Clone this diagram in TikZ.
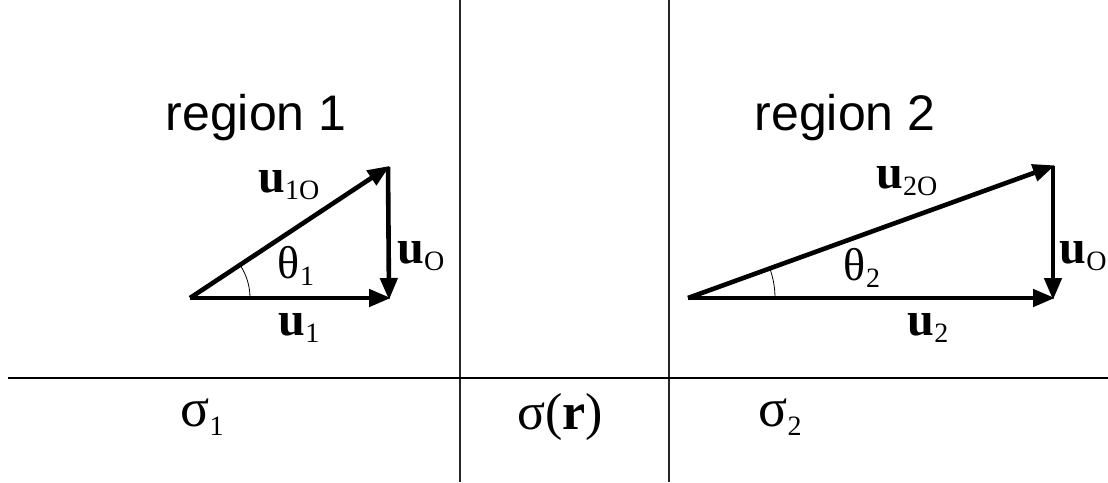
\documentclass[tikz,border=0pt]{standalone}
\usepackage{fontspec}
\setmainfont{Liberation Serif}
\newfontfamily\regfont{Liberation Sans}
\usetikzlibrary{arrows.meta}
\newcommand{\vlab}[2]{\fontsize{48}{52}\selectfont\textbf{u}\raisebox{-0.35ex}{\fontsize{28}{30}\selectfont #2}}
\newcommand{\glab}[2]{\fontsize{#2}{#2}\selectfont #1}
\begin{document}
\begin{tikzpicture}[x=1pt,y=-1pt,
  vec/.style={line width=4.6pt,-{Triangle[length=22pt,width=17pt]},shorten >=-2pt},
  divider/.style={line width=1.2pt,black!85},
  regtxt/.style={font=\regfont\fontsize{50}{54}\selectfont,inner sep=0},
  lab/.style={inner sep=0}]
\fill[white] (0,0) rectangle (1108,482);
\useasboundingbox (0,0) rectangle (1108,482);
% dividers
\coordinate (L1t) at (460,0); \coordinate (L1b) at (460,482);
\coordinate (L2t) at (669,0); \coordinate (L2b) at (669,482);
\coordinate (Hl) at (8,378); \coordinate (Hr) at (1108,378);
\draw[divider] (L1t) -- (L1b);
\draw[divider] (L2t) -- (L2b);
\draw[line width=1.8pt] (Hl) -- (Hr);
% region labels
\node[regtxt] (r1) at (256,118) {region 1};
\node[regtxt] (r2) at (845,118) {region 2};
% left triangle
\coordinate (A1) at (190,298);
\coordinate (B1) at (388,167);
\coordinate (C1) at (389,298);
\draw[vec] (A1) -- (B1);
\draw[vec] (B1) -- (C1);
\draw[vec] (A1) -- (C1);
\draw[line width=0.8pt] ([shift={(0:60)}]A1) arc[start angle=0,end angle=-33.5,radius=60];
% right triangle
\coordinate (A2) at (688,298);
\coordinate (B2) at (1053,166);
\coordinate (C2) at (1053,298);
\draw[vec] (A2) -- (B2);
\draw[vec] (B2) -- (C2);
\draw[vec] (A2) -- (C2);
\draw[line width=0.8pt] ([shift={(0:87)}]A2) arc[start angle=0,end angle=-19.9,radius=87];
% vector labels
\node[lab] (u10) at (289,185) {\vlab{u}{1O}};
\node[lab] (u0a) at (421,256) {\vlab{u}{O}};
\node[lab] (u1) at (299,328) {\vlab{u}{1}};
\node[lab] (u20) at (907,181) {\vlab{u}{2O}};
\node[lab] (u0b) at (1083,256) {\vlab{u}{O}};
\node[lab] (u2) at (928,328) {\vlab{u}{2}};
\node[lab] (t1) at (296,266) {\glab{θ}{46}\raisebox{-0.35ex}{\fontsize{28}{30}\selectfont 1}};
\node[lab] (t2) at (862,268) {\glab{θ}{46}\raisebox{-0.35ex}{\fontsize{28}{30}\selectfont 2}};
% sigma labels
\node[lab] (s1) at (202,417) {\glab{σ}{54}\raisebox{-0.35ex}{\fontsize{28}{30}\selectfont 1}};
\node[lab] (sr) at (560,417) {\glab{σ(\textbf{r})}{52}};
\node[lab] (s2) at (780,417) {\glab{σ}{54}\raisebox{-0.35ex}{\fontsize{28}{30}\selectfont 2}};
\end{tikzpicture}
\end{document}
